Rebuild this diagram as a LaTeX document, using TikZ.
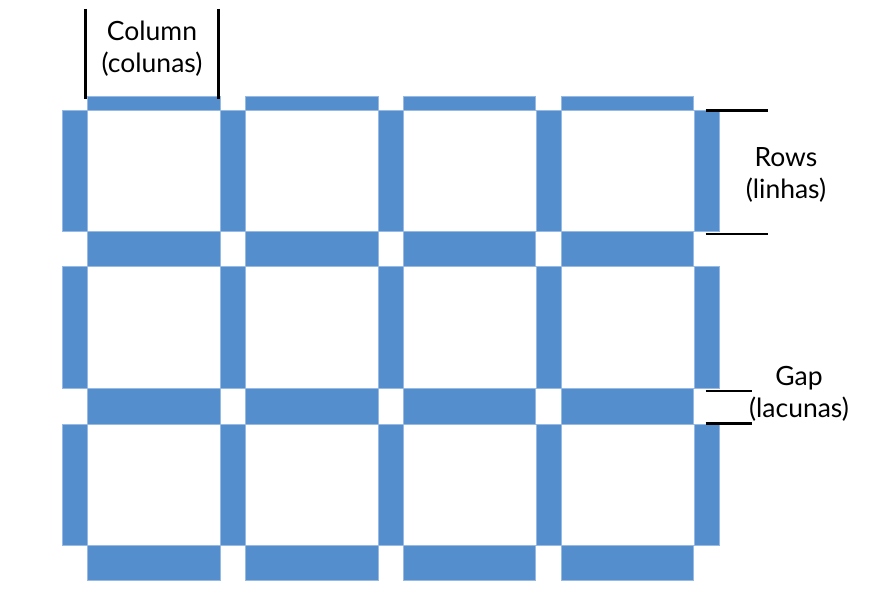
\documentclass[tikz,border=0pt]{standalone}
\usepackage{fontspec}
\setmainfont{Lato}
\definecolor{barblue}{RGB}{84,142,204}
\definecolor{baredge}{RGB}{150,186,228}
\begin{document}
\begin{tikzpicture}[x=1pt,y=-1pt,
  bar/.style={fill=barblue,draw=baredge,line width=0.6pt},
  marker/.style={line width=2.6pt,black},
  lbl/.style={font=\fontsize{26.5}{32}\selectfont,align=center,inner sep=0pt}]
\useasboundingbox (0,0) rectangle (885,602);
% horizontal bars
\foreach \i in {0,...,3} {
  \pgfmathsetmacro\xa{87.7+157.8*\i}
  \pgfmathsetmacro\xb{\xa+132.3}
  \draw[bar] (\xa,96) rectangle (\xb,110);
  \foreach \y in {231,388.3,545} {
    \draw[bar] (\xa,\y) rectangle (\xb,\y+35.5);
  }
}
% vertical bars
\foreach \j in {0,...,4} {
  \pgfmathsetmacro\xa{62.7+157.8*\j}
  \pgfmathsetmacro\xb{\xa+25}
  \draw[bar] (\xa,110) rectangle (\xb,231);
  \draw[bar] (\xa,266.5) rectangle (\xb,388.3);
  \draw[bar] (\xa,423.8) rectangle (\xb,545);
}
% markers
\coordinate (c1t) at (85.7,9);   \coordinate (c1b) at (85.7,99);
\coordinate (c2t) at (218.3,9);  \coordinate (c2b) at (218.3,99);
\draw[marker] (c1t) -- (c1b);
\draw[marker] (c2t) -- (c2b);
\coordinate (r1a) at (705.7,110.3); \coordinate (r1b) at (768,110.3);
\coordinate (r2a) at (705.7,234);   \coordinate (r2b) at (768,234);
\draw[marker] (r1a) -- (r1b);
\draw[marker] (r2a) -- (r2b);
\coordinate (g1a) at (705.7,391);   \coordinate (g1b) at (751.7,391);
\coordinate (g2a) at (705.7,423.3); \coordinate (g2b) at (751.7,423.3);
\draw[marker] (g1a) -- (g1b);
\draw[marker] (g2a) -- (g2b);
% labels
\node[lbl] (column) at (152,48.5) {Column\\(colunas)};
\node[lbl] (rows) at (786,174.5) {Rows\\(linhas)};
\node[lbl] (gap) at (799,393.5) {Gap\\(lacunas)};
\end{tikzpicture}
\end{document}
